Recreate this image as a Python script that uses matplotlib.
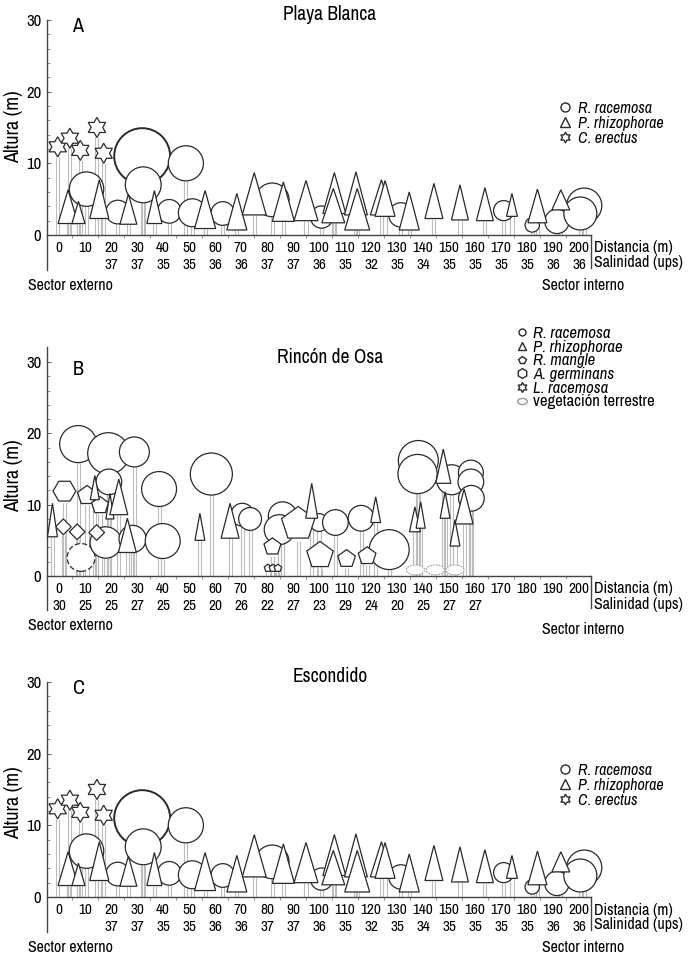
import numpy as np
import matplotlib
matplotlib.use('Agg')
import matplotlib.pyplot as plt
from matplotlib import font_manager
from matplotlib.patches import Polygon, Ellipse
from matplotlib.lines import Line2D
from matplotlib.path import Path

names = sorted({f.name for f in font_manager.fontManager.ttflist})
narrow = [n for n in names if 'Narrow' in n or 'Condensed' in n]
if narrow:
    FONT = narrow[0]
elif 'Liberation Sans' in names:
    FONT = 'Liberation Sans'
else:
    FONT = 'DejaVu Sans'
plt.rcParams['font.family'] = FONT

# ---- data -------------------------------------------------------------
distancia = list(range(0, 201, 10))
sal_playa = ['', '', '37', '37', '35', '35', '36', '36', '37', '37', '36',
             '35', '32', '35', '34', '35', '35', '35', '35', '36', '36']
sal_rincon = ['30', '25', '25', '27', '25', '25', '20', '26', '22', '27', '23',
              '29', '24', '20', '25', '27', '27', '', '', '', '']

# Playa Blanca (Escondido has the same profile)
# R. racemosa: x (m), crown centre (m), crown diameter (m)
pb_circ_x = [32.0, 48.8, 32.4, 10.6, 22.6, 42.4, 51.3, 63.0, 82.0, 101.0,
             131.5, 171.0, 182.0, 191.5, 202.0, 200.5]
pb_circ_h = [11.0, 10.0, 7.0, 6.4, 3.2, 3.3, 3.1, 3.0, 4.9, 2.5,
             2.8, 3.4, 1.4, 1.9, 4.1, 3.0]
pb_circ_d = [7.8, 4.9, 5.0, 4.8, 3.3, 3.3, 3.9, 3.3, 4.7, 3.1,
             3.4, 2.8, 2.0, 3.4, 4.9, 4.6]
# P. rhizophorae: x, crown top, crown base, crown width (m along transect)
pb_tri_x = [3.5, 7.5, 15.5, 26.7, 36.7, 56.2, 68.4, 75.1, 86.3, 95.0, 105.9,
            105.5, 114.2, 114.7, 124.0, 125.4, 134.7, 144.2, 154.2, 163.8,
            174.2, 184.0, 193.0]
pb_tri_top = [6.3, 4.7, 7.7, 5.7, 6.2, 6.2, 5.8, 8.7, 7.4, 7.6, 8.7,
              6.5, 8.8, 6.5, 7.7, 7.6, 6.0, 7.2, 7.0, 6.6, 5.8, 6.4, 6.3]
pb_tri_base = [1.6, 1.6, 2.3, 1.5, 1.6, 0.9, 0.7, 2.8, 1.9, 2.0, 3.0,
               1.7, 2.8, 0.7, 2.8, 2.6, 0.7, 2.3, 2.1, 2.0, 2.6, 1.7, 3.5]
pb_tri_w = [7.7, 5.0, 7.3, 6.5, 5.8, 8.1, 7.7, 9.2, 8.5, 9.2, 8.8,
            8.8, 8.8, 9.6, 8.5, 7.7, 7.7, 6.9, 6.5, 6.5, 4.2, 7.3, 6.9]
# C. erectus: x, crown centre, crown size
pb_star_x = [-0.5, 4.2, 8.2, 14.6, 17.2]
pb_star_h = [12.3, 13.5, 11.8, 15.0, 11.4]
pb_star_s = [2.8, 2.8, 2.8, 2.8, 2.8]

# Rincon de Osa
ro_circ_x = [7.4, 19.0, 29.0, 19.2, 38.5, 58.6, 18.0, 28.3, 39.9, 70.5, 73.5,
             86.0, 84.7, 100.0, 106.3, 116.2, 127.0, 138.2, 137.9, 151.0,
             158.4, 158.4, 158.6]
ro_circ_h = [18.5, 17.2, 17.4, 13.2, 12.2, 14.3, 4.7, 5.2, 4.9, 8.6, 8.0,
             8.4, 6.5, 7.5, 7.5, 8.1, 3.7, 16.2, 14.3, 13.5, 14.5, 13.2, 10.9]
ro_circ_d = [5.2, 5.8, 4.2, 3.6, 4.9, 5.9, 4.4, 3.8, 4.9, 3.2, 3.2,
             4.0, 4.2, 2.5, 3.6, 3.6, 5.6, 5.6, 5.5, 4.2, 3.5, 3.6, 3.6]
ro_dash_x = [8.5]
ro_dash_h = [2.6]
ro_dash_d = [3.9]
ro_tri_x = [-2.5, 13.8, 19.6, 23.0, 26.3, 54.2, 65.8, 97.2, 121.8, 136.9,
            139.1, 147.8, 148.5, 152.3, 155.8]
ro_tri_top = [10.2, 14.1, 11.6, 13.6, 8.1, 8.8, 10.2, 13.0, 11.1, 9.7,
              10.4, 17.8, 11.8, 7.9, 12.2]
ro_tri_base = [5.5, 10.7, 8.0, 8.6, 3.3, 5.0, 5.3, 8.1, 7.5, 6.2,
               6.7, 13.0, 8.1, 4.2, 7.3]
ro_tri_w = [3.8, 3.5, 3.1, 6.9, 6.9, 3.8, 6.9, 4.6, 3.8, 4.2,
            3.5, 5.8, 3.8, 3.8, 6.9]
# R. mangle (pentagons)
ro_pent_x = [92.0, 100.4, 110.6, 118.5, 82.1, 80.4, 82.3, 84.2, 10.8, 15.8]
ro_pent_h = [7.3, 2.9, 2.4, 2.8, 4.1, 1.1, 1.1, 1.1, 11.3, 9.9]
ro_pent_s = [4.9, 3.9, 2.6, 2.6, 2.5, 1.1, 1.1, 1.1, 2.8, 2.5]
# A. germinans (hexagons)
ro_hex_x = [2.1]
ro_hex_h = [11.9]
ro_hex_s = [3.2]
# diamonds
ro_dia_x = [1.7, 7.0, 14.5]
ro_dia_h = [6.9, 6.2, 6.1]
ro_dia_s = [2.2, 2.2, 2.2]
# vegetacion terrestre
ro_veg_x = [137.1, 144.7, 152.3]
ro_veg_h = [0.85, 0.85, 0.85]

EDGE = '#2a2a2a'
LW = 0.9
STEM = '#bdbdbd'
FS = 11.5

W, H = 699, 958
fig = plt.figure(figsize=(W / 100, H / 100), dpi=100)


def regular(n, r, rot):
    a = np.deg2rad(rot + 360.0 / n * np.arange(n))
    return np.c_[r * np.cos(a), r * np.sin(a)]


def hexagram(r):
    k = np.arange(12)
    a = np.deg2rad(90 + 30 * k)
    rr = np.where(k % 2 == 0, r, r / np.sqrt(3))
    return np.c_[rr * np.cos(a), rr * np.sin(a)]


def put(ax, verts, x, y, ratio, z, **kw):
    v = verts.copy()
    v[:, 0] = v[:, 0] * ratio + x
    v[:, 1] = v[:, 1] + y
    ax.add_patch(Polygon(v, closed=True, fc='white', ec=EDGE, lw=LW,
                         zorder=z, clip_on=False, **kw))


def stems(ax, xs, tops):
    xs = np.asarray(xs, float)
    for off in (-0.6, 0.6):
        ax.vlines(xs + off, 0, tops, colors=STEM, lw=0.8, zorder=1)


def make_axes(zero_px, scale, spine_bot, spine_top, sal):
    rect = [47 / W, 1 - (zero_px + 7 * scale) / H, 544 / W, 40 * scale / H]
    ax = fig.add_axes(rect)
    ax.set_xlim(-4.6, 204.6)
    ax.set_ylim(-7, 33)
    ax.patch.set_visible(False)
    for s in ('top', 'right'):
        ax.spines[s].set_visible(False)
    ax.spines['bottom'].set_position(('data', 0))
    ax.spines['bottom'].set_bounds(-4.6, 204.6)
    ax.spines['left'].set_bounds(spine_bot, spine_top)
    for s in ('bottom', 'left'):
        ax.spines[s].set_color('#444444')
        ax.spines[s].set_linewidth(1.0)
    ax.set_yticks([0, 10, 20, 30])
    ax.set_yticks(np.arange(0, 31, 2), minor=True)
    ax.tick_params(axis='y', which='major', direction='in', length=3,
                   width=0.6, pad=4, labelsize=12, colors='#444444',
                   labelcolor='black')
    ax.tick_params(axis='y', which='minor', direction='in', length=2,
                   width=0.5, colors='#666666')
    ax.set_xticks(distancia)
    ax.set_xticklabels(['%d\n%s' % (d, s if s else ' ')
                        for d, s in zip(distancia, sal)])
    ax.set_xticks(np.arange(5, 200, 10), minor=True)
    ax.tick_params(axis='x', which='major', length=0, pad=4, labelsize=11)
    ax.tick_params(axis='x', which='minor', direction='out', length=2,
                   width=0.5, colors='#666666')
    for lbl in ax.get_xticklabels():
        lbl.set_linespacing(1.3)
    ax.plot([204.6, 204.6], [0, spine_bot + 0.3], color='#444444', lw=1.0,
            clip_on=False)
    return ax


def ratio_of(ax):
    p0 = ax.transData.transform((0, 0))
    p1 = ax.transData.transform((1, 1))
    return (p1[1] - p0[1]) / (p1[0] - p0[0])


def draw_playa(ax):
    r = ratio_of(ax)
    cb = np.array(pb_circ_h) - np.array(pb_circ_d) / 2
    stems(ax, pb_circ_x, cb)
    stems(ax, pb_tri_x, pb_tri_base)
    sb = np.array(pb_star_h) - np.array(pb_star_s) / 2
    stems(ax, pb_star_x, sb)
    for x, h, d in zip(pb_circ_x, pb_circ_h, pb_circ_d):
        ax.add_patch(Ellipse((x, h), d * r, d, fc='white', ec=EDGE,
                             lw=1.4 if d > 7 else LW, zorder=2, clip_on=False))
    for x, t, b, w in zip(pb_tri_x, pb_tri_top, pb_tri_base, pb_tri_w):
        v = np.array([[x - w / 2, b], [x + w / 2, b], [x, t]])
        ax.add_patch(Polygon(v, closed=True, fc='white', ec=EDGE, lw=LW,
                             zorder=3, clip_on=False))
    for x, h, s in zip(pb_star_x, pb_star_h, pb_star_s):
        put(ax, hexagram(s / 2), x, h, r, 4)


def draw_rincon(ax):
    r = ratio_of(ax)
    stems(ax, ro_circ_x, np.array(ro_circ_h) - np.array(ro_circ_d) / 2)
    stems(ax, ro_dash_x, np.array(ro_dash_h) - np.array(ro_dash_d) / 2)
    stems(ax, ro_tri_x, ro_tri_base)
    stems(ax, ro_pent_x, np.array(ro_pent_h) - np.array(ro_pent_s) / 2)
    stems(ax, ro_hex_x, np.array(ro_hex_h) - np.array(ro_hex_s) / 2)
    stems(ax, ro_dia_x, np.array(ro_dia_h) - np.array(ro_dia_s) / 2)
    for x, h, d in zip(ro_dash_x, ro_dash_h, ro_dash_d):
        ax.add_patch(Ellipse((x, h), d * r, d, fc='white', ec=EDGE, lw=LW,
                             ls=(0, (4, 2)), zorder=2, clip_on=False))
    for x, h, d in zip(ro_circ_x, ro_circ_h, ro_circ_d):
        ax.add_patch(Ellipse((x, h), d * r, d, fc='white', ec=EDGE, lw=LW,
                             zorder=2, clip_on=False))
    for x, h, s in zip(ro_pent_x, ro_pent_h, ro_pent_s):
        put(ax, regular(5, s / 2, 90), x, h, r, 3)
    for x, h, s in zip(ro_hex_x, ro_hex_h, ro_hex_s):
        put(ax, regular(6, s / 2, 0), x, h, r, 3)
    for x, h, s in zip(ro_dia_x, ro_dia_h, ro_dia_s):
        put(ax, regular(4, s / 2, 90), x, h, r, 3)
    for x, t, b, w in zip(ro_tri_x, ro_tri_top, ro_tri_base, ro_tri_w):
        v = np.array([[x - w / 2, b], [x + w / 2, b], [x, t]])
        ax.add_patch(Polygon(v, closed=True, fc='white', ec=EDGE, lw=LW,
                             zorder=3, clip_on=False))
    for x, h in zip(ro_veg_x, ro_veg_h):
        ax.add_patch(Ellipse((x, h), 7.0, 1.4, fc='white', ec='#999999',
                             lw=0.7, ls=(0, (2, 1)), zorder=2))


def ftext(x, y, s, **kw):
    fig.text(x / W, 1 - y / H, s, **kw)


star_marker = Path(np.vstack([hexagram(1.0), hexagram(1.0)[:1]]), closed=True)
t = np.linspace(0, 2 * np.pi, 40)
veg_marker = Path(np.c_[1.6 * np.cos(t), np.sin(t)], closed=True)


def handle(marker, ms, ec=EDGE):
    return Line2D([], [], ls='none', marker=marker, ms=ms, mfc='white',
                  mec=ec, mew=1.0)


panels = [
    ('Playa Blanca', 'A', 235, 7.17, -4.9, 30.0, sal_playa, draw_playa, 127),
    ('Rincón de Osa', 'B', 576, 7.13, -4.8, 32.1, sal_rincon, draw_rincon, 476),
    ('Escondido', 'C', 897, 7.17, -4.9, 30.0, sal_playa, draw_playa, 803),
]

for title, letter, zero, sc, sb, st, sal, draw, ylab in panels:
    ax = make_axes(zero, sc, sb, st, sal)
    draw(ax)
    top30 = zero - 30 * sc
    ftext(330, top30 - 5, title, ha='center', va='center', fontsize=14)
    ftext(78, top30 + 7, letter, ha='center', va='center', fontsize=14.5)
    ftext(14, ylab, 'Altura (m)', rotation=90, ha='center', va='center',
          fontsize=14.5)
    ftext(594, zero + 13, 'Distancia (m)', ha='left', va='center',
          fontsize=FS)
    ftext(594, zero + 28, 'Salinidad (ups)', ha='left', va='center',
          fontsize=FS)
    ftext(28, zero + 50, 'Sector externo', ha='left', va='center',
          fontsize=FS)
    ftext(542, zero + (53 if letter == 'B' else 50), 'Sector interno',
          ha='left', va='center', fontsize=FS)

    if letter in ('A', 'C'):
        hs = [handle('o', 6.5), handle('^', 6.5), handle(star_marker, 7.5)]
        labs = ['R. racemosa', 'P. rhizophorae', 'C. erectus']
        leg = ax.legend(hs, labs, loc='upper left',
                        bbox_to_anchor=(557 / W, 1 - (zero - 134) / H),
                        bbox_transform=fig.transFigure, frameon=False,
                        borderpad=0, borderaxespad=0, handlelength=1.0,
                        handletextpad=0.3, labelspacing=0.0,
                        prop={'style': 'italic', 'size': 11.5})
    else:
        hs = [handle('o', 5), handle('^', 5.5), handle('p', 6),
              handle('h', 7), handle(star_marker, 7),
              handle(veg_marker, 7, ec='#999999')]
        labs = ['R. racemosa', 'P. rhizophorae', 'R. mangle', 'A. germinans',
                'L. racemosa', 'vegetación terrestre']
        leg = ax.legend(hs, labs, loc='upper left',
                        bbox_to_anchor=(514 / W, 1 - 326 / H),
                        bbox_transform=fig.transFigure, frameon=False,
                        borderpad=0, borderaxespad=0, handlelength=1.0,
                        handletextpad=0.15, labelspacing=-0.08,
                        prop={'style': 'italic', 'size': 12})
        leg.get_texts()[-1].set_style('normal')

fig.savefig('out.png', dpi=100)
